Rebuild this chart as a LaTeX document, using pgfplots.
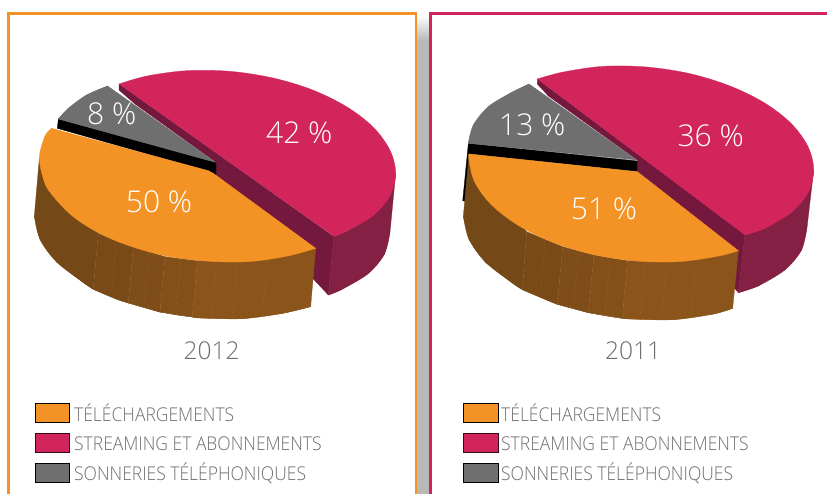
\documentclass[border=0pt]{standalone}
\usepackage{fontspec}
\setmainfont{Open Sans Light}
\usepackage{pgfplots}
\pgfplotsset{compat=1.18}
\definecolor{cri}{HTML}{D2255C}
\definecolor{ora}{HTML}{F39325}
\definecolor{gry}{HTML}{6F6F6F}
\definecolor{brd}{HTML}{754817}
\definecolor{brl}{HTML}{8A541B}
\colorlet{brb}{brd!80!brl}
\colorlet{brc}{brd!55!brl}
\colorlet{bre}{brd!30!brl}
\definecolor{mar}{HTML}{75183D}
\definecolor{mal}{HTML}{832044}
\definecolor{txt}{HTML}{6E6E6E}
\definecolor{shd}{HTML}{B9B9B9}
\tikzset{
  pct/.style={font=\fontsize{30}{30}\selectfont,text=white,inner sep=0pt},
  yr/.style={font=\fontsize{24.5}{25}\selectfont,text=txt,inner sep=0pt},
  leg/.style={font=\fontsize{19}{20}\selectfont,text=txt,inner sep=0pt,anchor=west,xscale=0.92},
}
\pgfplotsset{
  base/.style={scale only axis,width=827pt,height=494pt,hide axis,y dir=reverse,ymin=0,ymax=1482,no markers},
  poly/.style={draw=#1,fill=#1,line width=0.3pt,mark=none,forget plot},
  sarc/.style={draw=#1,fill=#1,line width=0.3pt,smooth,tension=0.55,mark=none,forget plot},
  seam/.style={draw=#1,line width=0.3pt,mark=none,forget plot,opacity=0.3,dash pattern=on 4pt off 3pt},
}
\begin{document}
\begin{tikzpicture}
\path[use as bounding box] (0,0) rectangle (827pt,494pt);
% ---------- 2012 panel ----------
\begin{axis}[base,xmin=0,xmax=2481,at={(0,0)},anchor=south west]
% shadow
\addplot[draw=none,fill=shd,forget plot] coordinates {(1252,120)(1288,120)(1288,1482)(1252,1482)} -- cycle;
\addplot[draw=none,top color=white,bottom color=shd,forget plot] coordinates {(1252,45)(1288,45)(1288,121)(1252,121)} -- cycle;
% frame
\addplot[draw=ora,line width=2.7pt,forget plot] coordinates {(26,1482)(26,41)(1248,41)(1248,1482)};
% streaming walls
\addplot[poly=mar] coordinates {(357,252)(357,270)(405,312)(648,487)(648,525)(985,885)(1002,710)} -- cycle;
\addplot[poly=mal] coordinates {(1002,710)(985,885)(1024,869)(1103,822)(1153,763)(1170,696)(1187,520)(1170,587)(1120,646)(1041,693)} -- cycle;
\addplot[sarc=mal] coordinates {(985,885)(1024,869)(1103,822)(1153,763)(1170,696)};
\addplot[seam=cri] coordinates {(1000,715)(987,880)};
\addplot[seam=cri] coordinates {(1075,680)(1060,846)};
\addplot[seam=cri] coordinates {(1115,650)(1098,822)};
\addplot[seam=cri] coordinates {(1140,625)(1120,800)};
% downloads walls
\addplot[poly=brd] coordinates {(118,474)(103,648)(120,718)(170,786)(249,847)(280,868)(295,700)} -- cycle;
\addplot[sarc=brd] coordinates {(103,648)(120,718)(170,786)(249,847)(280,868)};
\addplot[poly=brb] coordinates {(295,700)(280,868)(351,898)(385,909)(400,740)} -- cycle;
\addplot[sarc=brb] coordinates {(280,868)(351,898)(385,909)};
\addplot[poly=brc] coordinates {(400,740)(385,909)(480,936)(495,770)} -- cycle;
\addplot[sarc=brc] coordinates {(385,909)(471,934)(480,936)};
\addplot[poly=bre] coordinates {(495,770)(480,936)(577,951)(592,782)} -- cycle;
\addplot[sarc=bre] coordinates {(480,936)(530,945)(577,951)};
\addplot[poly=brl] coordinates {(592,782)(577,951)(600,954)(729,956)(848,940)(932,920)(947,745)} -- cycle;
\addplot[sarc=brl] coordinates {(577,951)(600,954)(729,956)(848,940)(932,920)};
\addplot[seam=ora] coordinates {(295,700)(280,860)};
\addplot[seam=ora] coordinates {(348,725)(336,880)};
\addplot[seam=ora] coordinates {(400,740)(385,905)};
\addplot[seam=ora] coordinates {(447,755)(432,915)};
\addplot[seam=ora] coordinates {(495,770)(480,932)};
\addplot[seam=ora] coordinates {(543,778)(527,940)};
\addplot[seam=ora] coordinates {(592,782)(577,948)};
\addplot[seam=ora] coordinates {(650,785)(635,952)};
\addplot[seam=ora] coordinates {(712,785)(697,953)};
\addplot[seam=ora] coordinates {(803,775)(787,948)};
% ringtones wall and top
\addplot[poly=black] coordinates {(175,357)(648,487)(648,525)(630,515)(172,385)} -- cycle;
\addplot[sarc=gry] coordinates {(175,357)(205,325)(260,285)(323,258)};
\addplot[poly=gry] coordinates {(175,357)(205,325)(260,285)(323,258)(646,487)} -- cycle;
% downloads top
\addplot[sarc=ora] coordinates {(155,385)(135,408)(118,474)(133,545)(155,583)(210,642)(280,690)(367,730)(488,766)(615,783)(745,785)(863,768)(947,745)};
\addplot[poly=ora] coordinates {(155,385)(625,512)(640,520)(947,745)(615,700)} -- cycle;
% streaming top
\addplot[sarc=cri] coordinates {(357,252)(441,228)(561,212)(690,214)(819,234)(938,270)(1041,321)(1120,382)(1170,451)(1187,520)(1170,587)(1120,646)(1041,693)(1002,709)};
% texts
\node[pct] at (axis cs:335,340) {8 \%};
\node[pct] at (axis cs:898,397) {42 \%};
\node[pct] at (axis cs:477,605) {50 \%};
\node[yr] at (axis cs:635,1052) {2012};
% legend
\addplot[draw=black,fill=ora,line width=0.9pt,forget plot] coordinates {(105,1210)(209,1210)(209,1266)(105,1266)} -- cycle;
\addplot[draw=black!75!cri,fill=cri,line width=0.9pt,forget plot] coordinates {(105,1300)(209,1300)(209,1356)(105,1356)} -- cycle;
\addplot[draw=black,fill=gry,line width=0.9pt,forget plot] coordinates {(105,1390)(209,1390)(209,1447)(105,1447)} -- cycle;
\node[leg] at (axis cs:222,1238) {TÉLÉCHARGEMENTS};
\node[leg] at (axis cs:222,1330) {STREAMING ET ABONNEMENTS};
\node[leg] at (axis cs:222,1420) {SONNERIES TÉLÉPHONIQUES};
\end{axis}
% ---------- 2011 panel ----------
\begin{axis}[base,xmin=-1230,xmax=1251,at={(0,0)},anchor=south west]
\addplot[draw=cri,line width=2.7pt,forget plot] coordinates {(61,1482)(61,41)(1251,41)};
% streaming walls
\addplot[poly=mar] coordinates {(382,237)(382,252)(415,288)(682,480)(682,515)(985,878)(1005,705)} -- cycle;
\addplot[poly=mal] coordinates {(1005,705)(985,878)(1044,858)(1124,810)(1174,751)(1191,683)(1211,510)(1194,578)(1144,637)(1064,685)} -- cycle;
\addplot[sarc=mal] coordinates {(985,878)(1044,858)(1124,810)(1174,751)(1191,683)};
\addplot[seam=cri] coordinates {(1035,695)(1018,862)};
\addplot[seam=cri] coordinates {(1095,670)(1080,832)};
\addplot[seam=cri] coordinates {(1140,630)(1125,790)};
\addplot[seam=cri] coordinates {(1160,610)(1150,770)};
% black sliver
\addplot[poly=black] coordinates {(175,430)(682,483)(682,515)(178,462)(170,603)(158,603)} -- cycle;
% downloads walls
\addplot[poly=brd] coordinates {(176,474)(160,648)(177,718)(227,787)(307,849)(337,869)(350,695)} -- cycle;
\addplot[sarc=brd] coordinates {(160,648)(177,718)(227,787)(307,849)(337,869)};
\addplot[poly=brb] coordinates {(350,695)(337,869)(410,900)(442,913)(458,740)} -- cycle;
\addplot[sarc=brb] coordinates {(337,869)(410,900)(442,913)};
\addplot[poly=brc] coordinates {(458,740)(442,913)(535,938)(552,765)} -- cycle;
\addplot[sarc=brc] coordinates {(442,913)(531,937)(535,938)};
\addplot[poly=bre] coordinates {(552,765)(535,938)(637,955)(652,782)} -- cycle;
\addplot[sarc=bre] coordinates {(535,938)(590,948)(637,955)};
\addplot[poly=brl] coordinates {(652,782)(637,955)(661,957)(791,959)(911,942)(968,925)(985,752)} -- cycle;
\addplot[sarc=brl] coordinates {(637,955)(661,957)(791,959)(911,942)(968,925)};
\addplot[seam=ora] coordinates {(350,695)(337,860)};
\addplot[seam=ora] coordinates {(405,720)(392,880)};
\addplot[seam=ora] coordinates {(458,740)(442,905)};
\addplot[seam=ora] coordinates {(505,755)(490,920)};
\addplot[seam=ora] coordinates {(552,765)(535,933)};
\addplot[seam=ora] coordinates {(600,775)(585,943)};
\addplot[seam=ora] coordinates {(652,782)(637,950)};
\addplot[seam=ora] coordinates {(706,785)(690,954)};
\addplot[seam=ora] coordinates {(770,785)(755,955)};
\addplot[seam=ora] coordinates {(860,775)(843,948)};
% ringtones top
\addplot[sarc=gry] coordinates {(175,430)(190,375)(235,320)(300,280)(357,252)};
\addplot[poly=gry] coordinates {(175,430)(190,375)(235,320)(300,280)(357,252)(680,480)} -- cycle;
% downloads top
\addplot[sarc=ora] coordinates {(178,462)(176,474)(193,544)(243,613)(323,675)(426,726)(547,763)(677,783)(807,785)(927,768)(985,752)};
\addplot[poly=ora] coordinates {(178,462)(682,515)(985,752)(650,700)} -- cycle;
% streaming top
\addplot[sarc=cri] coordinates {(382,237)(460,216)(580,199)(710,201)(840,221)(960,258)(1064,309)(1144,371)(1194,440)(1211,510)(1194,578)(1144,637)(1064,685)(1005,705)};
\node[pct] at (axis cs:367,375) {13 \%};
\node[pct] at (axis cs:902,407) {36 \%};
\node[pct] at (axis cs:582,627) {51 \%};
\node[yr] at (axis cs:669,1053) {2011};
\addplot[draw=black,fill=ora,line width=0.9pt,forget plot] coordinates {(160,1210)(264,1210)(264,1266)(160,1266)} -- cycle;
\addplot[draw=black!75!cri,fill=cri,line width=0.9pt,forget plot] coordinates {(160,1300)(264,1300)(264,1356)(160,1356)} -- cycle;
\addplot[draw=black,fill=gry,line width=0.9pt,forget plot] coordinates {(160,1390)(264,1390)(264,1447)(160,1447)} -- cycle;
\node[leg] at (axis cs:273,1238) {TÉLÉCHARGEMENTS};
\node[leg] at (axis cs:273,1330) {STREAMING ET ABONNEMENTS};
\node[leg] at (axis cs:273,1420) {SONNERIES TÉLÉPHONIQUES};
\end{axis}
\end{tikzpicture}
\end{document}
